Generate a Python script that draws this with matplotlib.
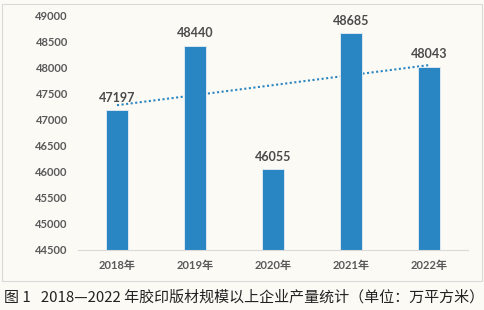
import matplotlib
matplotlib.use("Agg")
import matplotlib.pyplot as plt
import numpy as np
from matplotlib.patches import Rectangle

plt.rcParams['font.family'] = ['Lato', 'Noto Sans CJK SC', 'DejaVu Sans']

years = ['2018年', '2019年', '2020年', '2021年', '2022年']
values = [47197, 48440, 46055, 48685, 48043]
yticks = [44500, 45000, 45500, 46000, 46500, 47000, 47500, 48000, 48500, 49000]
caption = '图 1   2018—2022 年胶印版材规模以上企业产量统计（单位：万平方米）'

bg = '#fcfaf5'
bar_color = '#2a86c2'

fig = plt.figure(figsize=(4.84, 3.10), dpi=100, facecolor=bg)
# outer chart frame
fig.patches.append(Rectangle((2/484, 1 - 281/310), 480/484, 277/310, transform=fig.transFigure,
                             facecolor='none', edgecolor='#d9d9d9', linewidth=0.8, zorder=-1))

ax = fig.add_axes([78/484, 1 - 250/310, 390/484, 233/310])
ax.set_facecolor('none')
x = np.arange(len(years))
ax.bar(x, values, width=0.29, color=bar_color, edgecolor='#dde8f0', linewidth=0.7, zorder=2)
for xi, v in zip(x, values):
    ax.text(xi, v + 130, str(v), ha='center', va='bottom', fontsize=9,
            fontweight='bold', color='#4a4a4a', zorder=4)

coef = np.polyfit(x, values, 1)
ax.plot(x, np.polyval(coef, x), linestyle=(0, (1, 1.2)), color=bar_color, linewidth=1.5, zorder=1)

ax.set_xlim(-0.5, len(years) - 0.5)
ax.set_ylim(yticks[0], yticks[-1])
ax.set_yticks(yticks)
ax.set_yticklabels([])
for t in yticks:
    ax.text(-0.026, t, str(t), transform=ax.get_yaxis_transform(), ha='right', va='center',
            fontsize=8, fontweight='bold', color='#595959')
ax.set_xticks(x)
ax.set_xticklabels(years)
for spine in ['top', 'right', 'left']:
    ax.spines[spine].set_visible(False)
ax.spines['bottom'].set_color('#d9d9d9')
ax.tick_params(axis='both', length=0, colors='#595959', labelsize=8)
ax.tick_params(axis='x', pad=7)
for lbl in ax.get_xticklabels():
    lbl.set_fontweight('bold')

fig.text(4/484, 1 - 297/310, caption, fontsize=10.8, color='#222222', va='center', ha='left',
         family=['Noto Sans CJK SC', 'DejaVu Sans'])

fig.savefig('out.png', dpi=100, facecolor=bg)
